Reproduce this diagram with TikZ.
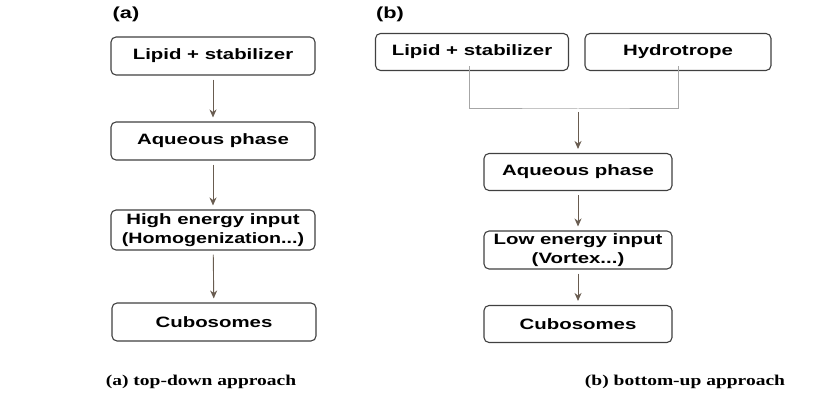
\documentclass[tikz,border=0pt]{standalone}
\usepackage{graphicx}
\usepackage{fontspec}
\setmainfont{Liberation Serif}
\setsansfont{Liberation Sans}
\usetikzlibrary{arrows.meta}
\definecolor{arrowgray}{RGB}{105,92,80}
\newcommand\wide[2][1.36]{\scalebox{#1}[1]{#2}}

\begin{document}
\begin{tikzpicture}[x=1pt,y=-1pt,
    box/.style={draw=black!75,line width=1.1pt,rounded corners=5pt,fill=white,
      font=\sffamily\bfseries\fontsize{15}{19}\selectfont,align=center,inner sep=1pt},
    boxa/.style={box,minimum width=204pt,minimum height=38pt},
    boxb/.style={box,minimum width=188pt,minimum height=37pt},
    tag/.style={font=\sffamily\bfseries\fontsize{16}{17}\selectfont},
    captext/.style={font=\rmfamily\bfseries\fontsize{15}{16}\selectfont},
    arr/.style={draw=arrowgray,line width=0.9pt,-{Stealth[length=8pt,width=7pt]},shorten >=4pt,shorten <=4pt},
    link/.style={draw=black!35,line width=1pt}]
        \useasboundingbox (0,0) rectangle (818,411);
        % (a) top-down
        \node[tag] (taga) at (126,14) {\wide{(a)}};
        \node[boxa] (lipa) at (213,56) {\wide{Lipid + stabilizer}};
        \node[boxa] (aqa) at (213,141) {\wide{Aqueous phase}};
        \node[boxa,minimum height=40pt] (hea) at (213,230) {\wide{High energy input}\\\wide[1.31]{(Homogenization...)}};
        \node[boxa] (cuba) at (214,322) {\wide{Cubosomes}};
        \draw[arr] (lipa) -- (aqa);
        \draw[arr] (aqa) -- (hea);
        \draw[arr] (hea) -- (cuba);
        % (b) bottom-up
        \node[tag] (tagb) at (390,14) {\wide{(b)}};
        \node[box,minimum width=193pt,minimum height=37pt] (lipb) at (472,52) {\wide{Lipid + stabilizer}};
        \node[box,minimum width=186pt,minimum height=37pt] (hyd) at (678,52) {\wide{Hydrotrope}};
        \node[boxb] (aqb) at (578,172) {\wide{Aqueous phase}};
        \node[boxb,minimum height=38pt] (leb) at (578,250) {\wide{Low energy input}\\\wide{(Vortex...)}};
        \node[boxb] (cubb) at (578,324) {\wide{Cubosomes}};
        \coordinate (join) at (578,109);
        \draw[link] ([xshift=-3pt,yshift=5pt]lipb.south) |- (join) -| ([yshift=5pt]hyd.south);
        \draw[arr,shorten <=3pt] (join) -- (aqb);
        \draw[arr] (aqb) -- (leb);
        \draw[arr] (leb) -- (cubb);
        % captions
        \node[captext] (capa) at (201,382) {\wide[1.3]{(a) top-down approach}};
        \node[captext] (capb) at (685,382) {\wide[1.3]{(b) bottom-up approach}};
      \end{tikzpicture}
\end{document}
